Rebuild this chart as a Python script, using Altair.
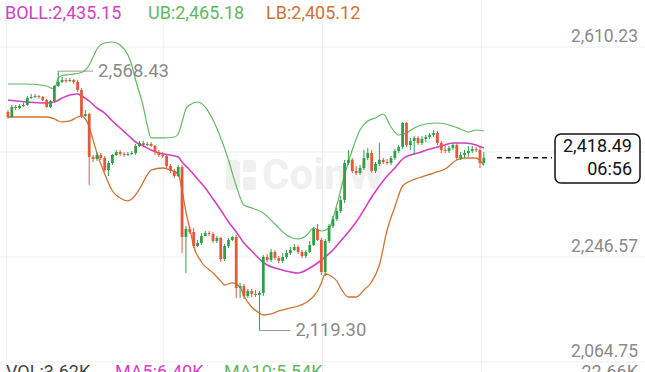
import altair as alt
import pandas as pd

# ---------------- data (prices) ----------------
first_open = 2497.7
closes = [2489.0, 2506.3, 2504.6, 2508.1, 2509.8, 2521.9, 2523.7, 2525.4, 2523.7, 2518.5,
          2506.3, 2516.7, 2542.7, 2549.6, 2553.1, 2551.4, 2553.1, 2549.6, 2535.8, 2490.8,
          2494.2, 2419.8, 2416.3, 2423.2, 2418.0, 2397.2, 2409.4, 2423.2, 2428.4, 2424.9,
          2423.2, 2424.9, 2426.7, 2438.8, 2444.0, 2440.5, 2442.3, 2438.8, 2428.4, 2423.2,
          2421.5, 2404.2, 2395.5, 2386.8, 2402.4, 2281.2, 2295.1, 2289.9, 2265.6, 2270.8,
          2282.9, 2288.1, 2286.4, 2274.3, 2279.5, 2243.1, 2265.6, 2276.0, 2281.2, 2192.9,
          2196.4, 2179.0, 2187.7, 2182.5, 2180.8, 2184.2, 2246.6, 2241.4, 2255.2, 2244.9,
          2239.7, 2246.6, 2253.5, 2258.7, 2263.9, 2255.2, 2248.3, 2255.2, 2267.4, 2295.1,
          2276.0, 2220.6, 2274.3, 2300.3, 2312.4, 2326.2, 2345.3, 2409.4, 2414.6, 2395.5,
          2392.0, 2400.7, 2418.0, 2426.7, 2395.5, 2407.6, 2414.6, 2411.1, 2409.4, 2418.0,
          2430.1, 2437.1, 2478.6, 2440.5, 2447.5, 2452.7, 2444.0, 2450.9, 2454.4, 2457.8,
          2461.3, 2444.0, 2431.9, 2430.1, 2435.3, 2440.5, 2418.0, 2423.2, 2426.7, 2430.1,
          2433.6, 2431.9, 2409.4, 2418.49]
highs = [2501.1, 2509.8, 2509.8, 2511.5, 2513.3, 2525.4, 2528.8, 2528.8, 2527.1, 2525.4,
         2520.2, 2518.5, 2544.4, 2568.43, 2558.3, 2556.6, 2556.6, 2554.8, 2553.1, 2539.2,
         2501.1, 2495.9, 2423.2, 2428.4, 2426.7, 2421.5, 2412.8, 2424.9, 2431.9, 2431.9,
         2428.4, 2428.4, 2430.1, 2442.3, 2447.5, 2447.5, 2445.7, 2445.7, 2440.5, 2431.9,
         2428.4, 2423.2, 2407.6, 2399.0, 2405.9, 2405.9, 2300.3, 2300.3, 2296.8, 2276.0,
         2288.1, 2291.6, 2291.6, 2289.9, 2282.9, 2281.2, 2269.1, 2279.5, 2282.9, 2284.7,
         2201.6, 2199.8, 2191.2, 2191.2, 2189.4, 2187.7, 2250.0, 2251.8, 2260.4, 2258.7,
         2248.3, 2253.5, 2258.7, 2263.9, 2269.1, 2267.4, 2258.7, 2258.7, 2274.3, 2298.5,
         2303.7, 2279.5, 2277.8, 2303.7, 2317.6, 2331.4, 2352.2, 2414.6, 2431.9, 2418.0,
         2404.2, 2405.9, 2431.9, 2435.3, 2431.9, 2411.1, 2444.0, 2418.0, 2416.3, 2421.5,
         2433.6, 2440.5, 2480.4, 2480.4, 2452.7, 2456.1, 2456.1, 2456.1, 2457.8, 2461.3,
         2466.5, 2464.8, 2447.5, 2438.8, 2438.8, 2444.0, 2444.0, 2428.4, 2431.9, 2438.8,
         2438.8, 2437.1, 2437.1, 2428.4]
lows = [2485.6, 2487.3, 2501.1, 2502.9, 2506.3, 2508.1, 2520.2, 2521.9, 2520.2, 2516.7,
        2504.6, 2504.6, 2515.0, 2541.0, 2547.9, 2547.9, 2549.6, 2546.2, 2532.3, 2487.3,
        2489.0, 2371.3, 2411.1, 2412.8, 2414.6, 2393.8, 2386.8, 2405.9, 2421.5, 2421.5,
        2419.8, 2421.5, 2423.2, 2423.2, 2437.1, 2438.8, 2438.8, 2437.1, 2423.2, 2419.8,
        2418.0, 2400.7, 2392.0, 2383.4, 2385.1, 2253.5, 2218.9, 2286.4, 2262.2, 2263.9,
        2267.4, 2282.9, 2282.9, 2270.8, 2270.8, 2237.9, 2239.7, 2262.2, 2274.3, 2175.6,
        2175.6, 2173.9, 2175.6, 2177.3, 2177.3, 2119.30, 2179.0, 2237.9, 2237.9, 2241.4,
        2236.2, 2236.2, 2243.1, 2250.0, 2257.0, 2251.8, 2244.9, 2244.9, 2253.5, 2265.6,
        2274.3, 2215.4, 2213.7, 2270.8, 2296.8, 2308.9, 2322.8, 2340.1, 2405.9, 2392.0,
        2388.6, 2388.6, 2397.2, 2414.6, 2392.0, 2392.0, 2404.2, 2407.6, 2405.9, 2405.9,
        2414.6, 2426.7, 2433.6, 2437.1, 2431.9, 2423.2, 2440.5, 2440.5, 2445.7, 2450.9,
        2454.4, 2440.5, 2426.7, 2426.7, 2426.7, 2431.9, 2414.6, 2414.6, 2418.0, 2419.8,
        2426.7, 2428.4, 2400.7, 2405.9]

ub_idx = [0, 5, 10, 11, 12, 13, 14, 16, 19, 21, 22, 23, 25, 27, 29, 31, 32, 33, 35, 36,
          37, 40, 43, 44, 45, 46, 47, 49, 51, 53, 55, 57, 59, 61, 63, 66, 69, 72, 75, 77,
          79, 81, 83, 85, 87, 89, 91, 93, 95, 97, 99, 101, 103, 105, 108, 111, 114, 117,
          119, 121, 123]
ub_val = [2546.2, 2546.2, 2542.7, 2539.2, 2537.5, 2556.5, 2560.9, 2562.6, 2566.1, 2579.1,
          2592.9, 2606.8, 2617.2, 2618.9, 2613.7, 2596.4, 2579.1, 2553.1, 2506.3, 2475.2,
          2452.7, 2452.7, 2454.4, 2459.6, 2480.4, 2502.9, 2509.8, 2515.0, 2506.3, 2483.8,
          2452.7, 2414.6, 2369.5, 2336.6, 2331.4, 2322.8, 2303.7, 2284.7, 2277.8, 2282.9,
          2296.8, 2291.6, 2296.8, 2336.6, 2388.6, 2431.9, 2466.5, 2482.1, 2487.3, 2494.2,
          2471.7, 2457.8, 2461.3, 2470.0, 2476.9, 2478.6, 2475.2, 2468.2, 2463.0, 2466.5,
          2465.18]

boll_idx = [0, 5, 10, 12, 14, 16, 18, 19, 21, 23, 25, 27, 29, 31, 33, 35, 37, 39, 42, 44,
            45, 47, 49, 51, 53, 55, 57, 59, 61, 63, 65, 67, 70, 73, 75, 78, 80, 82, 84, 86,
            88, 90, 92, 94, 96, 98, 100, 102, 104, 106, 109, 112, 115, 118, 121, 123]
boll_val = [2518.5, 2515.0, 2513.3, 2515.0, 2521.9, 2527.1, 2528.8, 2525.4, 2516.7, 2504.6,
            2495.9, 2482.1, 2470.0, 2457.8, 2445.7, 2438.8, 2431.9, 2426.7, 2423.2, 2419.8,
            2411.1, 2397.2, 2381.6, 2366.1, 2347.0, 2328.0, 2307.2, 2289.9, 2270.8, 2257.0,
            2243.1, 2232.7, 2225.8, 2220.6, 2218.9, 2227.5, 2236.2, 2246.6, 2258.7, 2274.3,
            2289.9, 2307.2, 2328.0, 2350.5, 2369.5, 2386.8, 2400.7, 2416.3, 2423.2, 2426.7,
            2433.6, 2438.8, 2444.0, 2444.0, 2440.5, 2435.15]

lb_idx = [0, 5, 10, 12, 13, 14, 16, 18, 19, 20, 21, 22, 23, 24, 25, 27, 29, 31, 32, 34,
          36, 37, 40, 42, 44, 45, 46, 47, 48, 50, 53, 55, 56, 58, 60, 61, 63, 65, 66, 68,
          70, 73, 75, 78, 80, 81, 82, 83, 85, 86, 88, 90, 92, 94, 96, 98, 100, 102, 104,
          106, 110, 113, 116, 118, 121, 123]
lb_val = [2489.0, 2489.0, 2489.0, 2485.6, 2482.1, 2480.4, 2482.1, 2489.0, 2490.8, 2485.6,
          2471.7, 2449.2, 2426.7, 2407.6, 2390.3, 2360.9, 2348.7, 2343.6, 2347.0, 2364.3,
          2388.6, 2397.2, 2400.7, 2397.2, 2390.3, 2362.6, 2324.5, 2295.1, 2265.6, 2237.9,
          2218.9, 2205.0, 2198.1, 2201.6, 2194.6, 2179.0, 2160.0, 2149.6, 2146.1, 2147.9,
          2153.1, 2158.3, 2161.7, 2172.1, 2187.7, 2201.6, 2217.1, 2215.4, 2205.0, 2192.9,
          2177.3, 2177.3, 2189.4, 2203.3, 2232.7, 2293.3, 2333.2, 2369.5, 2378.2, 2383.4,
          2392.0, 2399.0, 2414.6, 2418.0, 2418.0, 2405.12]

grid_prices = [2610.23, 2428.40, 2246.57, 2064.75]
# the 2,428.40 label sits under the price box in the reference, so it is not shown
label_prices = [2610.23, 2246.57, 2064.75]
label_texts = ["2,610.23", "2,246.57", "2,064.75"]

legend_texts = ["BOLL:2,435.15", "UB:2,465.18", "LB:2,405.12"]
vol_texts = ["VOL:3.62K", "MA5:6.40K", "MA10:5.54K"]
vol_axis_label = "22.66K"
max_price, max_text = 2568.43, "2,568.43"
min_price, min_text = 2119.30, "2,119.30"
last_price, last_text, countdown = 2418.49, "2,418.49", "06:56"
watermark_text = "CoinW"

# ---------------- styling ----------------
W, H = 645, 372
STEP, X0 = 3.93, 3.0
GREEN, RED = "#2fa04a", "#e5583c"
UB_C, BOLL_C, LB_C = "#62b862", "#d440c4", "#cf7434"
GRID_C = "#efefef"
LABEL_C = "#8a8a8a"
WM_C = "#f0f0f0"
FONT = "Roboto"

xs = alt.Scale(domain=[-X0 / STEP, (W - X0) / STEP], nice=False, zero=False)
ys = alt.Scale(domain=[2047.43, 2691.62], nice=False, zero=False)

n = len(closes)
opens = [first_open] + closes[:-1]
candles = pd.DataFrame({
    "idx": list(range(n)), "open": opens, "close": closes, "high": highs, "low": lows,
})
candles["dir"] = ["up" if c >= o else "down" for o, c in zip(opens, closes)]
col = alt.Color("dir:N", scale=alt.Scale(domain=["up", "down"], range=[GREEN, RED]), legend=None)
X = lambda f: alt.X(f, scale=xs, axis=None)
Y = lambda f: alt.Y(f, scale=ys, axis=None)

# grid
hgrid = alt.Chart(pd.DataFrame({"p": grid_prices})).mark_rule(color=GRID_C, strokeWidth=1).encode(
    y=Y("p:Q"), x=alt.value(0), x2=alt.value(W))
vgrid_idx = [(f * W - X0) / STEP for f in (0.002, 0.25, 0.5, 0.75)]
vgrid = alt.Chart(pd.DataFrame({"i": vgrid_idx})).mark_rule(color=GRID_C, strokeWidth=1).encode(
    x=X("i:Q"), y=alt.value(0), y2=alt.value(H))

# watermark (logo block + word)
wm_df = pd.DataFrame({"t": [watermark_text]})
logo_a = alt.Chart(wm_df).mark_rect(fill=WM_C, cornerRadius=3).encode(
    x=alt.value(226), x2=alt.value(240), y=alt.value(160), y2=alt.value(190))
logo_b = alt.Chart(wm_df).mark_rect(fill=WM_C, cornerRadius=2).encode(
    x=alt.value(243), x2=alt.value(256), y=alt.value(160), y2=alt.value(172))
logo_c = alt.Chart(wm_df).mark_rect(fill=WM_C, cornerRadius=2).encode(
    x=alt.value(243), x2=alt.value(256), y=alt.value(177), y2=alt.value(190))
watermark = alt.Chart(wm_df).mark_text(
    fontSize=42, font=FONT, fontWeight="bold", color=WM_C, align="left", baseline="middle"
).encode(x=alt.value(262), y=alt.value(176), text="t:N")

# bands
def band(idx, vals, color, sw):
    return alt.Chart(pd.DataFrame({"i": idx, "v": vals})).mark_line(
        color=color, strokeWidth=sw, interpolate="monotone").encode(x=X("i:Q"), y=Y("v:Q"))

ub_line = band(ub_idx, ub_val, UB_C, 1.2)
lb_line = band(lb_idx, lb_val, LB_C, 1.3)
boll_line = band(boll_idx, boll_val, BOLL_C, 1.6)

wicks = alt.Chart(candles).mark_rule(strokeWidth=1).encode(
    x=X("idx:Q"), y=Y("low:Q"), y2="high:Q", color=col)
bodies = alt.Chart(candles).mark_bar(size=2.8).encode(
    x=X("idx:Q"), y=Y("open:Q"), y2="close:Q", color=col)

# y labels
ylab = alt.Chart(pd.DataFrame({"p": label_prices, "t": label_texts})).mark_text(
    align="right", baseline="middle", dy=-10, fontSize=17.5, font=FONT, color=LABEL_C
).encode(x=alt.value(638), y=Y("p:Q"), text="t:N")

# max/min annotations
imax = highs.index(max_price)
imin = lows.index(min_price)
ann = pd.DataFrame({
    "i": [imax, imin], "i2": [imax + 9, imin + 8], "p": [max_price, min_price],
    "t": [max_text, min_text],
})
ann_rule = alt.Chart(ann).mark_rule(color="#9a9a9a", strokeWidth=1).encode(
    x=X("i:Q"), x2="i2:Q", y=Y("p:Q"))
ann_text = alt.Chart(ann).mark_text(
    align="left", baseline="middle", dx=5, fontSize=18.5, font=FONT, color=LABEL_C
).encode(x=X("i2:Q"), y=Y("p:Q"), text="t:N")

# last price marker
last_df = pd.DataFrame({"p": [last_price], "t": [last_text], "c": [countdown]})
dash = alt.Chart(last_df).mark_rule(color="#111111", strokeWidth=1.5, strokeDash=[5, 4]).encode(
    y=Y("p:Q"), x=alt.value(497), x2=alt.value(552))
box = alt.Chart(last_df).mark_rect(
    fill="white", stroke="#111111", strokeWidth=1.5, cornerRadius=6
).encode(x=alt.value(555), x2=alt.value(640), y=alt.value(134), y2=alt.value(183))
box_t1 = alt.Chart(last_df).mark_text(
    align="right", baseline="middle", dy=-11, fontSize=18, font=FONT, color="#111111"
).encode(x=alt.value(632), y=Y("p:Q"), text="t:N")
box_t2 = alt.Chart(last_df).mark_text(
    align="right", baseline="middle", dy=12, fontSize=18, font=FONT, color="#111111"
).encode(x=alt.value(632), y=Y("p:Q"), text="c:N")

# legend texts
leg = alt.Chart(pd.DataFrame({"t": legend_texts, "c": [BOLL_C, UB_C, LB_C],
                              "px": [5, 148, 266]})).mark_text(
    align="left", baseline="middle", fontSize=18, font=FONT
).encode(x=alt.X("px:Q", scale=None, axis=None), y=alt.value(14), text="t:N",
         color=alt.Color("c:N", scale=None))

vol = alt.Chart(pd.DataFrame({"t": vol_texts, "c": ["#444444", BOLL_C, UB_C],
                              "px": [6, 115, 224]})).mark_text(
    align="left", baseline="alphabetic", fontSize=18, font=FONT).encode(
    x=alt.X("px:Q", scale=None, axis=None), y=alt.value(378), text="t:N",
    color=alt.Color("c:N", scale=None))
vol_r = alt.Chart(pd.DataFrame({"t": [vol_axis_label]})).mark_text(
    align="right", baseline="alphabetic", fontSize=18, font=FONT, color=LABEL_C).encode(
    x=alt.value(638), y=alt.value(378), text="t:N")

chart = alt.layer(
    hgrid, vgrid, logo_a, logo_b, logo_c, watermark, ub_line, lb_line, boll_line, wicks, bodies,
    ann_rule, ann_text, ylab, dash, box, box_t1, box_t2, leg, vol, vol_r
).properties(
    width=W, height=H, padding=0, autosize=alt.AutoSizeParams(type="none"),
    background="white"
).configure_view(stroke=None)

chart.save("out.html", embed_options={"renderer": "svg", "actions": False})
